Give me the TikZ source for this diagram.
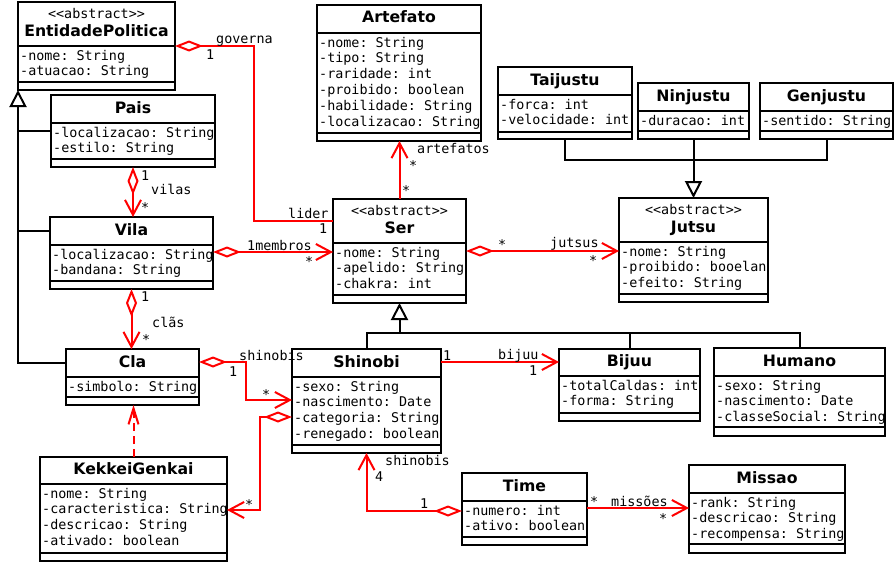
\documentclass[tikz,border=0pt]{standalone}
\usepackage{fontspec}
\setmainfont{DejaVu Sans}
\setmonofont{DejaVu Sans Mono}
\usetikzlibrary{arrows.meta}
\tikzset{
 classbox/.style={draw=black, line width=2pt, fill=white, inner sep=0pt, outer sep=0pt},
 boxline/.style={line width=2pt},
 attr/.style={anchor=base west, inner sep=0pt, font=\ttfamily\fontsize{13.4}{15.8}\selectfont},
 ctitle/.style={anchor=base, inner sep=0pt, font=\bfseries\fontsize{15.7}{18}\selectfont},
 stereo/.style={anchor=base, inner sep=0pt, font=\ttfamily\fontsize{13.4}{15.8}\selectfont},
 lbl/.style={anchor=base west, inner sep=0pt, font=\ttfamily\fontsize{13.4}{15.8}\selectfont},
 rel/.style={draw=red, line width=2pt},
 aggr/.style={rel, {Diamond[open, length=28pt, width=11pt]}-{Straight Barb[length=15pt, width=16pt]}},
 aggonly/.style={rel, {Diamond[open, length=28pt, width=11pt]}-},
 nav/.style={rel, -{Straight Barb[length=15pt, width=16pt]}},
 dep/.style={rel, dash pattern=on 8pt off 5pt, -{Straight Barb[length=16pt, width=10pt]}},
 gen/.style={line width=2pt, -{Triangle[open, length=17pt, width=17pt]}},
 genline/.style={line width=2pt},
}
\newcommand{\umlframe}[7]{%
  \pgfmathsetmacro{\umlw}{#4-#2}%
  \pgfmathsetmacro{\umlh}{#5-#3}%
  \node[classbox, minimum width=\umlw pt, minimum height=\umlh pt, anchor=north west] (#1) at (#2,#3) {};
  \draw[boxline] (#2,#6) -- (#4,#6);
  \draw[boxline] (#2,#7) -- (#4,#7);
}
\newcommand{\umlattrs}[3]{%
  \foreach \a [count=\i] in {#3} {\node[attr] at ({#1+2},{#2+14+15.8*(\i-1)}) {\a};}
}
\newcommand{\umlclass}[9]{%
  \umlframe{#1}{#2}{#3}{#4}{#5}{#6}{#7}
  \node[ctitle] at ({(#2+#4)/2},{(#3+#6)/2+4}) {#8};
  \umlattrs{#2}{#6}{#9}
}
\newcommand{\umlabstract}[9]{%
  \umlframe{#1}{#2}{#3}{#4}{#5}{#6}{#7}
  \node[stereo] at ({(#2+#4)/2},{#3+16.5}) {<{}<abstract>{}>};
  \node[ctitle] at ({(#2+#4)/2},{#3+34.7}) {#8};
  \umlattrs{#2}{#6}{#9}
}
\begin{document}
\begin{tikzpicture}[x=1pt, y=-1pt]
\useasboundingbox (0,0) rectangle (895,562);
% classes
\umlabstract{ep}{18}{2}{175}{90}{46}{82}{EntidadePolitica}{-nome: String, -atuacao: String}
\umlclass{pais}{51}{95}{215}{167}{123}{159}{Pais}{-localizacao: String, -estilo: String}
\umlclass{vila}{50}{217}{213}{289}{245}{281}{Vila}{-localizacao: String, -bandana: String}
\umlclass{cla}{66}{349}{199}{405}{377}{397}{Cla}{-simbolo: String}
\umlclass{kekkei}{40}{457}{227}{561}{484}{553}{KekkeiGenkai}{-nome: String, -caracteristica: String, -descricao: String, -ativado: boolean}
\umlclass{artefato}{317}{5}{481}{141}{33}{133}{Artefato}{-nome: String, -tipo: String, -raridade: int, -proibido: boolean, -habilidade: String, -localizacao: String}
\umlclass{tai}{498}{67}{632}{139}{95}{132}{Taijustu}{-forca: int, -velocidade: int}
\umlclass{nin}{638}{83}{749}{139}{111}{131}{Ninjustu}{-duracao: int}
\umlclass{gen}{760}{83}{893}{139}{111}{131}{Genjustu}{-sentido: String}
\umlabstract{jutsu}{619}{198}{768}{302}{242}{294}{Jutsu}{-nome: String, -proibido: booelan, -efeito: String}
\umlabstract{ser}{333}{199}{466}{303}{243}{295}{Ser}{-nome: String, -apelido: String, -chakra: int}
\umlclass{shinobi}{292}{349}{441}{453}{377}{445}{Shinobi}{-sexo: String, -nascimento: Date, -categoria: String, -renegado: boolean}
\umlclass{bijuu}{559}{349}{700}{421}{376}{413}{Bijuu}{-totalCaldas: int, -forma: String}
\umlclass{humano}{714}{348}{885}{436}{376}{427}{Humano}{-sexo: String, -nascimento: Date, -classeSocial: String}
\umlclass{time}{462}{473}{587}{545}{501}{537}{Time}{-numero: int, -ativo: boolean}
\umlclass{missao}{689}{465}{845}{553}{493}{544}{Missao}{-rank: String, -descricao: String, -recompensa: String}
% generalizations
\draw[gen] (cla.west |- 0,363) -| (ep.south west);
\draw[genline] (pais.west |- 0,131) -- (ep.south west |- 0,131);
\draw[genline] (vila.west |- 0,231) -- (ep.south west |- 0,231);
\draw[gen] (nin.south) -- (jutsu.north);
\draw[genline] (tai.south) |- (gen.south |- 0,160) -- (gen.south);
\draw[gen] (shinobi.north) |- (ser.south |- 0,333) -- (ser.south);
\draw[genline] (humano.north) |- (shinobi.north |- 0,333);
\draw[genline] (bijuu.north) -- (bijuu.north |- 0,333);
% associations
\draw[aggonly] (ep.east |- 0,46) -- (254,46) |- (ser.west |- 0,221);
\draw[aggr] (pais.south) -- (pais.south |- vila.north);
\draw[aggr] (vila.south) -- (vila.south |- cla.north);
\draw[aggr] (vila.east |- 0,252) -- (ser.west |- 0,252);
\draw[nav] (ser.north) -- (ser.north |- artefato.south);
\draw[aggr] (ser.east |- 0,251) -- (jutsu.west |- 0,251);
\draw[aggr] (cla.east |- 0,362) -- (246,362) |- (shinobi.west |- 0,400);
\draw[aggr] (shinobi.west |- 0,417) -- (260,417) |- (kekkei.east |- 0,510);
\draw[dep] (kekkei.north) -- (kekkei.north |- cla.south);
\draw[nav] (shinobi.east |- 0,362) -- (bijuu.west |- 0,362);
\draw[aggr] (time.west |- 0,511) -| (shinobi.south);
\draw[nav] (time.east |- 0,508) -- (missao.west |- 0,508);
% labels
\node[lbl] (l1) at (216,43) {governa};
\node[lbl] (l2) at (206,59) {1};
\node[lbl] (l3) at (288,218) {lider};
\node[lbl] (l4) at (319,233) {1};
\node[lbl] (l5) at (247,250) {1membros};
\node[lbl] (l6) at (305,266) {*};
\node[lbl] (l7) at (151,194) {vilas};
\node[lbl] (l8) at (141,180) {1};
\node[lbl] (l9) at (141,212) {*};
\node[lbl] (l10) at (141,301) {1};
\node[lbl] (l11) at (152,327) {clãs};
\node[lbl] (l12) at (142,344) {*};
\node[lbl] (l13) at (239,360) {shinobis};
\node[lbl] (l14) at (229,376) {1};
\node[lbl] (l15) at (262,399) {*};
\node[lbl] (l16) at (245,509) {*};
\node[lbl] (l17) at (417,153) {artefatos};
\node[lbl] (l18) at (409,170) {*};
\node[lbl] (l19) at (402,195) {*};
\node[lbl] (l20) at (498,249) {*};
\node[lbl] (l21) at (550,247) {jutsus};
\node[lbl] (l22) at (589,265) {*};
\node[lbl] (l23) at (443,360) {1};
\node[lbl] (l24) at (498,359) {bijuu};
\node[lbl] (l25) at (529,375) {1};
\node[lbl] (l26) at (385,465) {shinobis};
\node[lbl] (l27) at (375,481) {4};
\node[lbl] (l28) at (420,508) {1};
\node[lbl] (l29) at (590,506) {*};
\node[lbl] (l30) at (611,506) {missões};
\node[lbl] (l31) at (659,523) {*};
\end{tikzpicture}
\end{document}
